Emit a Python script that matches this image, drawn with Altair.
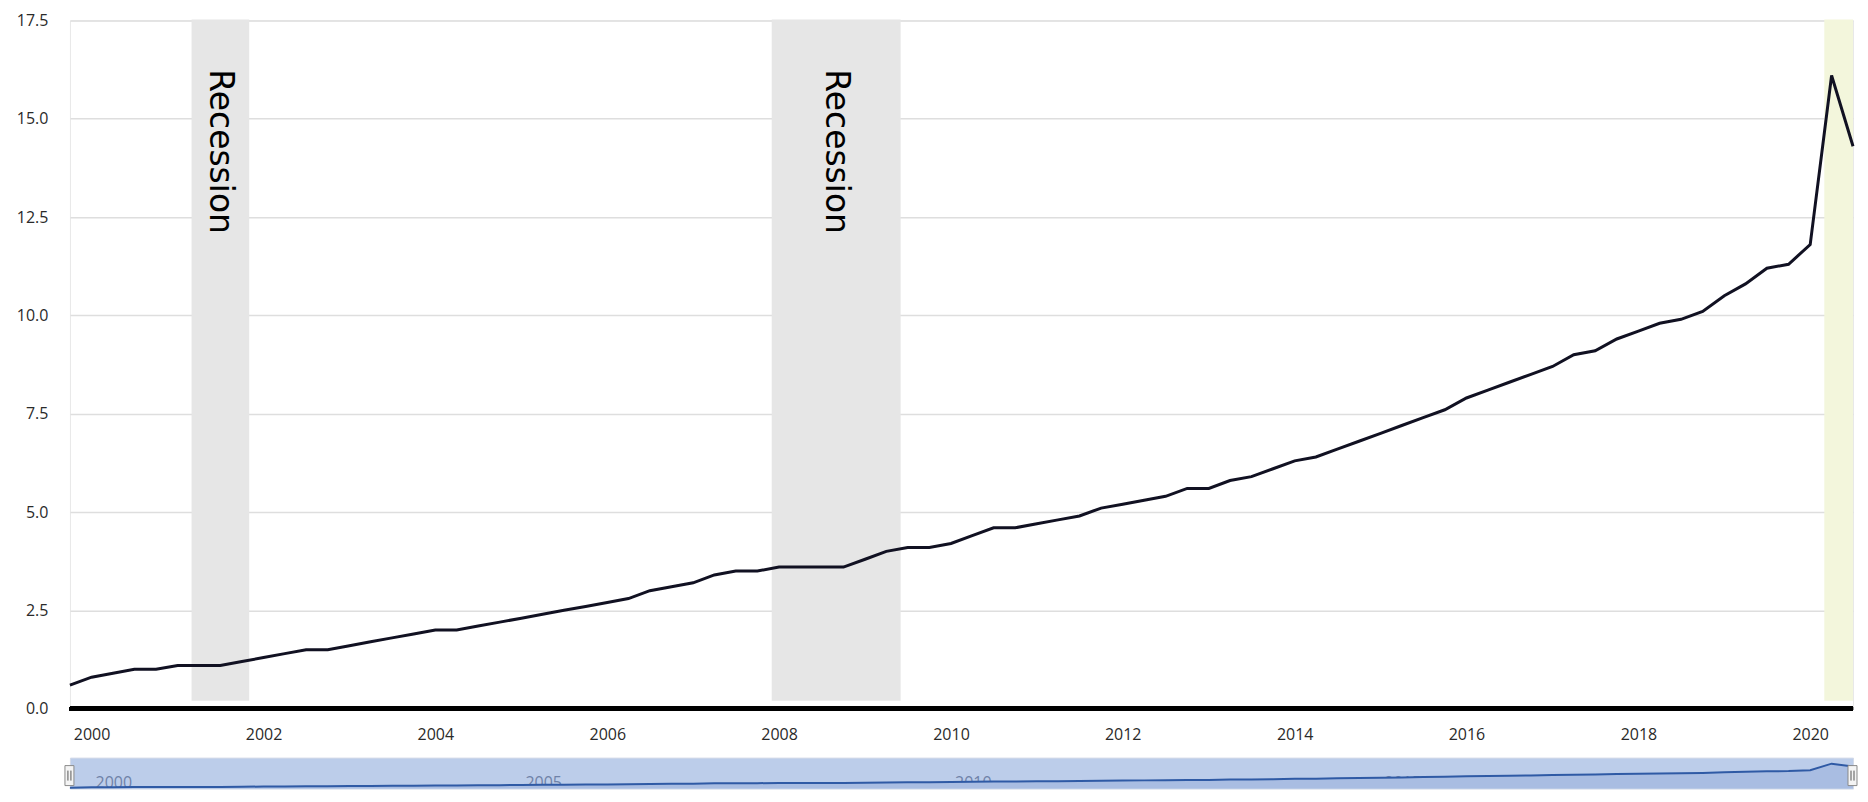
import altair as alt
import pandas as pd

# Quarterly series (percent), first quarter 1999-Q4, last 2020-Q3
first_quarter = "1999-10-01"
share_values = [
    0.6,
    0.8, 0.9, 1.0, 1.0,
    1.1, 1.1, 1.1, 1.2,
    1.3, 1.4, 1.5, 1.5,
    1.6, 1.7, 1.8, 1.9,
    2.0, 2.0, 2.1, 2.2,
    2.3, 2.4, 2.5, 2.6,
    2.7, 2.8, 3.0, 3.1,
    3.2, 3.4, 3.5, 3.5,
    3.6, 3.6, 3.6, 3.6,
    3.8, 4.0, 4.1, 4.1,
    4.2, 4.4, 4.6, 4.6,
    4.7, 4.8, 4.9, 5.1,
    5.2, 5.3, 5.4, 5.6,
    5.6, 5.8, 5.9, 6.1,
    6.3, 6.4, 6.6, 6.8,
    7.0, 7.2, 7.4, 7.6,
    7.9, 8.1, 8.3, 8.5,
    8.7, 9.0, 9.1, 9.4,
    9.6, 9.8, 9.9, 10.1,
    10.5, 10.8, 11.2, 11.3,
    11.8, 16.1, 14.3,
]

recession_starts = ["2001-03-01", "2007-12-01"]
recession_ends = ["2001-11-01", "2009-06-01"]
recession_label = "Recession"

highlight_start = ["2020-03-01"]
highlight_end = ["2020-07-01"]

y_ticks = [0, 2.5, 5.0, 7.5, 10.0, 12.5, 15.0, 17.5]
x_tick_years = [2000, 2002, 2004, 2006, 2008, 2010, 2012, 2014, 2016, 2018, 2020]
nav_label_years = [2000, 2005, 2010, 2015, 2020]

dates = pd.date_range(first_quarter, periods=len(share_values), freq="QS")
df = pd.DataFrame({"date": dates.strftime("%Y-%m-%d"), "value": share_values})

rs = pd.to_datetime(recession_starts)
re_ = pd.to_datetime(recession_ends)
rec = pd.DataFrame({
    "start": recession_starts,
    "end": recession_ends,
    "mid": (rs + (re_ - rs) / 2).strftime("%Y-%m-%d"),
    "label": [recession_label] * len(recession_starts),
})
hl = pd.DataFrame({"start": highlight_start, "end": highlight_end})
nav_lab = pd.DataFrame({"date": [f"{y}-01-01" for y in nav_label_years],
                        "label": [str(y) for y in nav_label_years]})
handles = pd.DataFrame({"date": [df["date"].iloc[0], df["date"].iloc[-1]]})

W = 1785
H = 689
NAV_H = 31

x_dom = [alt.DateTime(year=1999, month=10, date=1, utc=True),
         alt.DateTime(year=2020, month=7, date=1, utc=True)]
x_scale = alt.Scale(type="utc", domain=x_dom, nice=False)

base = alt.Chart(df)

rec_rect = alt.Chart(rec).mark_rect(color="#e6e6e6").encode(
    x=alt.X("start:T", scale=x_scale),
    x2="end:T",
    y=alt.value(-1),
    y2=alt.value(H - 8),
)
hl_rect = alt.Chart(hl).mark_rect(color="#f3f6dc").encode(
    x=alt.X("start:T", scale=x_scale),
    x2="end:T",
    y=alt.value(-1),
    y2=alt.value(H - 8),
)
zero_rule = base.mark_rule(color="#000000", strokeWidth=4).encode(
    y=alt.datum(0),
)
line = base.mark_line(color="#111122", strokeWidth=3).encode(
    x=alt.X("date:T", scale=x_scale, title=None,
            axis=alt.Axis(values=[alt.DateTime(year=y, utc=True) for y in x_tick_years],
                          format="%Y", formatType="utc", labelFontSize=16,
                          labelFont="Open Sans", labelColor="#2a2a2a",
                          labelPadding=18, ticks=False, domain=False, grid=False)),
    y=alt.Y("value:Q", title=None,
            scale=alt.Scale(domain=[0, 17.5], nice=False),
            axis=alt.Axis(values=y_ticks, format=".1f", labelFontSize=16,
                          labelFont="Open Sans", labelColor="#2a2a2a",
                          labelPadding=22, ticks=False, domain=False,
                          grid=True, gridColor="#dedede", gridWidth=1.5)),
)
rec_text = alt.Chart(rec).mark_text(
    angle=90, align="left", baseline="middle", font="DejaVu Sans",
    fontSize=33, color="#000000",
).encode(
    x=alt.X("mid:T", scale=x_scale),
    y=alt.value(49),
    text="label:N",
)

main = alt.layer(rec_rect, hl_rect, zero_rule, line, rec_text).properties(
    width=W, height=H,
    view=alt.ViewBackground(stroke="#e8e8e8", fill="white"),
)

nav_text = alt.Chart(nav_lab).mark_text(
    align="left", baseline="alphabetic", dx=4, fontSize=16,
    font="Open Sans", color="#6f82a8",
).encode(
    x=alt.X("date:T", scale=x_scale, axis=None),
    y=alt.value(NAV_H - 1),
    text="label:N",
)
nav_area = base.mark_area(
    color="#a9bde2", opacity=1,
    line={"color": "#2f5aa5", "strokeWidth": 2},
).encode(
    x=alt.X("date:T", scale=x_scale, axis=None),
    y=alt.Y("value:Q", scale=alt.Scale(domain=[0, 20], nice=False), axis=None),
)
handle_box = alt.Chart(handles).mark_rect(
    fill="#f4f4f4", stroke="#8a8a8a", strokeWidth=1, xOffset=-5, x2Offset=4,
).encode(
    x=alt.X("date:T", scale=x_scale, axis=None),
    x2="date:T",
    y=alt.value(8),
    y2=alt.value(28),
)
grip1 = alt.Chart(handles).mark_rule(color="#555555", strokeWidth=1, xOffset=-2).encode(
    x=alt.X("date:T", scale=x_scale, axis=None), y=alt.value(13), y2=alt.value(23))
grip2 = alt.Chart(handles).mark_rule(color="#555555", strokeWidth=1, xOffset=1).encode(
    x=alt.X("date:T", scale=x_scale, axis=None), y=alt.value(13), y2=alt.value(23))

nav = alt.layer(nav_text, nav_area, handle_box, grip1, grip2).properties(
    width=W, height=NAV_H,
    view=alt.ViewBackground(fill="#bccdea", stroke="#d3dae8"),
)

chart = alt.vconcat(main, nav, spacing=49, bounds="flush").resolve_scale(
    x="independent", y="independent"
).properties(
    padding={"left": 7, "top": 3, "right": 0, "bottom": 0},
    background="white",
)

chart.save("out.html", embed_options={"renderer": "svg", "actions": False})
